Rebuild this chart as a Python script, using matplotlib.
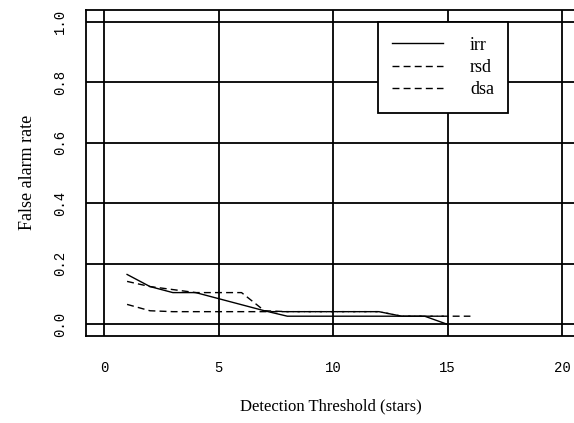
import matplotlib
matplotlib.use("Agg")
import matplotlib.pyplot as plt

# detection threshold (stars) and false alarm rates
thresholds_irr = [1, 2, 3, 4, 5, 6, 7, 8, 9, 10, 11, 12, 13, 14, 15]
irr = [0.165, 0.125, 0.105, 0.105, 0.085, 0.065, 0.045, 0.027, 0.027,
       0.027, 0.027, 0.027, 0.027, 0.027, 0.0]

thresholds_rsd = [1, 2, 3, 4, 5, 6, 7, 8, 9, 10, 11, 12, 13, 14, 15, 16]
rsd = [0.142, 0.125, 0.115, 0.105, 0.105, 0.105, 0.045, 0.042, 0.042,
       0.042, 0.042, 0.042, 0.027, 0.027, 0.027, 0.027]

thresholds_dsa = [1, 2, 3, 4, 5, 6, 7, 8, 9, 10, 11, 12, 13, 14, 15]
dsa = [0.066, 0.045, 0.042, 0.042, 0.042, 0.042, 0.042, 0.042, 0.042,
       0.042, 0.042, 0.042, 0.027, 0.027, 0.027]

xticks = [0, 5, 10, 15, 20]
yticks = [0.0, 0.2, 0.4, 0.6, 0.8, 1.0]

plt.rcParams['font.family'] = ['Liberation Serif', 'DejaVu Serif']

fig = plt.figure(figsize=(5.74, 4.23), dpi=100)
# right edge of the box sits just off the picture, as in the original
ax = fig.add_axes([0.15, 0.206, 0.853, 0.771])

# grid lines, drawn like the old S-plus style
for x in xticks:
    ax.axvline(x, color='black', lw=1.3, zorder=1)
for y in yticks:
    ax.axhline(y, color='black', lw=1.3, zorder=1)

dash = (0, (5, 3))
ax.plot(thresholds_irr, irr, color='black', lw=1.0, label='irr', zorder=3)
ax.plot(thresholds_rsd, rsd, color='black', lw=1.0, ls=dash, label='rsd', zorder=3)
ax.plot(thresholds_dsa, dsa, color='black', lw=1.0, ls=dash, label='dsa', zorder=3)

ax.set_xlim(-0.79, 20.6)
ax.set_ylim(-0.038, 1.040)
ax.set_xticks(xticks)
ax.set_yticks(yticks)
ax.set_xticklabels([str(x) for x in xticks], family='Liberation Mono', fontsize=10)
ax.set_yticklabels(['%.1f' % y for y in yticks], family='Liberation Mono', fontsize=10,
                   rotation=90, va='center')
ax.tick_params(axis='x', length=0, pad=18)
ax.tick_params(axis='y', length=0, pad=14)
for s in ax.spines.values():
    s.set_linewidth(1.3)

ax.set_xlabel('Detection Threshold (stars)', fontsize=12, labelpad=17)
ax.set_ylabel('False alarm rate', fontsize=13, labelpad=12)

leg = ax.legend(loc='upper left', bbox_to_anchor=(0.596, 0.962), fancybox=False,
                framealpha=1, edgecolor='black', fontsize=13, handlelength=2.8,
                handletextpad=1.5, borderpad=0.8, borderaxespad=0,
                labelspacing=0.3)
leg.get_frame().set_linewidth(1.3)

plt.savefig('out.png', dpi=100)
